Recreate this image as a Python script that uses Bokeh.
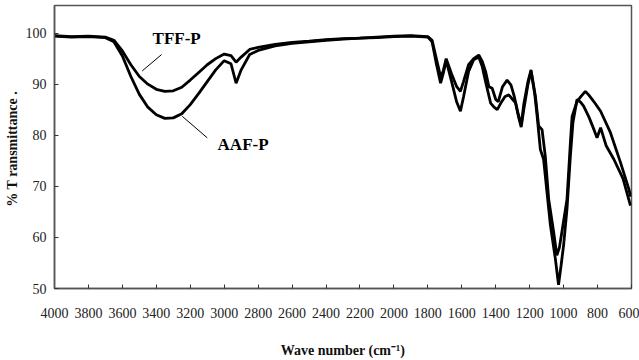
from bokeh.plotting import figure
from bokeh.models import Range1d, FixedTicker, ColumnDataSource
from bokeh.core.properties import value
from bokeh.embed import file_html
from bokeh.resources import INLINE

# ---- data ----
tff_wn = [4000, 3900, 3800, 3700, 3650, 3600, 3550, 3500, 3450, 3400, 3350, 3300, 3250,
          3200, 3150, 3100, 3050, 3000, 2960, 2930, 2900, 2850, 2800, 2700, 2600, 2500,
          2400, 2300, 2200, 2100, 2000, 1900, 1800, 1775, 1750, 1725, 1710, 1692, 1660,
          1630, 1608, 1590, 1560, 1530, 1500, 1480, 1460, 1440, 1421, 1400, 1385, 1360,
          1333, 1310, 1290, 1270, 1250, 1235, 1210, 1192, 1166, 1147, 1127, 1108, 1088,
          1059, 1040, 1025, 1010, 980, 960, 950, 921, 900, 872, 850, 822, 782, 724, 665,
          616, 605]
tff_t = [99.5, 99.3, 99.4, 99.2, 98.6, 96.5, 93.8, 91.5, 90.0, 89.0, 88.6, 88.7, 89.4,
         90.8, 92.3, 93.8, 95.0, 95.9, 95.6, 94.3, 95.3, 96.8, 97.2, 97.8, 98.2, 98.4,
         98.7, 98.9, 99.0, 99.2, 99.4, 99.5, 99.3, 98.6, 95.0, 91.5, 92.5, 95.0, 92.0,
         89.5, 88.6, 90.5, 93.8, 95.0, 95.7, 94.5, 92.5, 89.5, 89.2, 87.0, 86.6, 89.5,
         90.8, 89.8, 87.5, 84.5, 82.0, 86.0, 90.5, 92.8, 87.6, 81.8, 81.1, 75.9, 67.5,
         61.1, 56.5, 58.0, 61.1, 67.5, 78.6, 83.7, 86.6, 87.5, 88.6, 87.8, 86.6, 84.7,
         80.5, 74.7, 69.5, 68.0]

aaf_wn = [4000, 3900, 3800, 3700, 3650, 3600, 3550, 3500, 3450, 3400, 3350, 3300, 3250,
          3200, 3150, 3100, 3050, 3000, 2960, 2930, 2900, 2850, 2800, 2700, 2600, 2500,
          2400, 2300, 2200, 2100, 2000, 1900, 1800, 1775, 1750, 1725, 1710, 1692, 1660,
          1630, 1608, 1590, 1560, 1530, 1500, 1480, 1460, 1430, 1410, 1391, 1370, 1345,
          1323, 1300, 1284, 1265, 1250, 1235, 1210, 1192, 1170, 1156, 1137, 1118, 1098,
          1078, 1049, 1030, 1015, 1000, 980, 960, 945, 921, 900, 882, 850, 820, 803, 782,
          750, 704, 650, 606]
aaf_t = [99.4, 99.2, 99.3, 99.1, 98.3, 95.5, 91.5, 88.0, 85.5, 84.0, 83.3, 83.4, 84.2,
         86.0, 88.2, 90.5, 92.8, 94.6, 94.0, 90.2, 92.8, 95.8, 96.6, 97.5, 98.0, 98.3,
         98.6, 98.8, 99.0, 99.1, 99.3, 99.4, 99.2, 98.3, 94.0, 90.2, 92.0, 94.6, 90.5,
         86.5, 84.7, 87.5, 92.5, 94.8, 95.3, 93.5, 90.5, 86.3, 85.5, 85.0, 86.3, 87.6,
         87.9, 87.0, 86.4, 83.5, 81.6, 85.0, 90.0, 92.5, 88.0, 83.7, 77.2, 75.3, 68.8,
         62.4, 55.9, 50.7, 54.5, 58.5, 65.6, 76.0, 82.5, 87.0, 86.5, 85.7, 83.5, 81.0,
         79.5, 81.5, 78.0, 75.3, 71.5, 66.2]

x_ticks = list(range(600, 4001, 200))
y_ticks = [50, 60, 70, 80, 90, 100]

labels = ["TFF-P", "AAF-P"]
label_x = [3422, 3039]
label_y = [98.9, 78.1]
leader_x0 = [3369, 3247]
leader_y0 = [95.8, 83.7]
leader_x1 = [3483, 3100]
leader_y1 = [92.6, 79.5]

# ---- figure ----
p = figure(width=639, height=360, output_backend="svg", toolbar_location=None,
           x_range=Range1d(4000, 600), y_range=Range1d(50, 105.4),
           min_border_left=54, min_border_right=8, min_border_top=5, min_border_bottom=69)
p.background_fill_color = "white"
p.border_fill_color = "white"
p.outline_line_color = "#555555"
p.outline_line_width = 1.5
p.grid.visible = False

serif = "Liberation Serif"
for ax in (p.xaxis[0], p.yaxis[0]):
    ax.axis_line_color = "#555555"
    ax.axis_line_width = 1.5
    ax.major_tick_line_color = "#333333"
    ax.major_tick_in = 4
    ax.major_tick_out = 0
    ax.minor_tick_line_color = None
    ax.major_label_text_font = serif
    ax.major_label_text_font_size = "14px"
    ax.major_label_text_color = "#222222"
    ax.axis_label_text_font = serif
    ax.axis_label_text_font_style = "bold"
    ax.axis_label_text_font_size = "14px"
    ax.axis_label_text_color = "#111111"

p.xaxis.ticker = FixedTicker(ticks=x_ticks)
p.yaxis.ticker = FixedTicker(ticks=y_ticks)
p.xaxis.major_label_standoff = 19
p.yaxis.major_label_standoff = 8
p.xaxis.axis_label = "Wave number (cm\u207b\u00b9)"
p.yaxis.axis_label = "% T ransmittance  ."
p.xaxis.axis_label_standoff = 22
p.yaxis.axis_label_standoff = 3

p.line(tff_wn, tff_t, line_color="black", line_width=2.8)
p.line(aaf_wn, aaf_t, line_color="black", line_width=2.8)

p.segment(x0=leader_x0, y0=leader_y0, x1=leader_x1, y1=leader_y1,
          line_color="black", line_width=1)
src = ColumnDataSource(dict(x=label_x, y=label_y, t=labels))
p.text(x="x", y="y", text="t", source=src, text_font=value(serif),
       text_font_style="bold", text_font_size="17px", text_baseline="middle",
       text_align="left", text_color="black")

open("out.html", "w").write(file_html(p, INLINE))
